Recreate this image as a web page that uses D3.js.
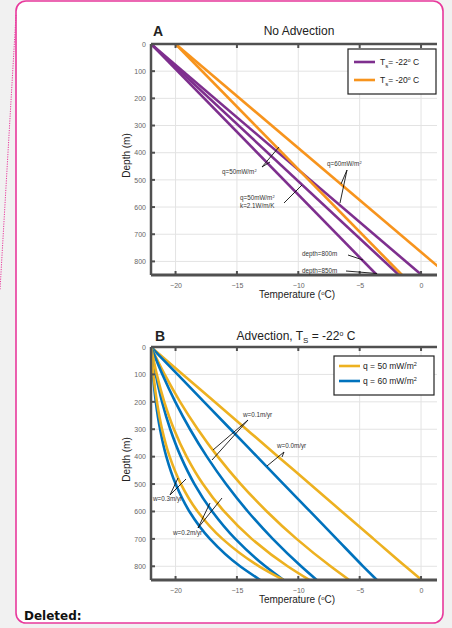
<!DOCTYPE html>
<html><head><meta charset="utf-8">
<script src="https://cdn.jsdelivr.net/npm/d3@7"></script>
<style>
body{margin:0;background:#f1f1f1;}
svg{display:block;font-family:"Liberation Sans",Arial,sans-serif;}
</style>
</head><body>
<svg id="c" width="452" height="628"></svg>
<script>
// ---- shared axes ----
const depthTicks = [0, 100, 200, 300, 400, 500, 600, 700, 800];
const tempTicks = [-20, -15, -10, -5, 0];

// ---- panel A: straight conductive profiles (temperature at surface and 850 m) ----
const depthsA = [0, 850];
const purpleQ50 = [-22, -3.6];           // q=50 mW/m2
const purpleQ50k21 = [-22, -1.8];        // q=50 mW/m2, k=2.1 W/m/K
const purpleQ60 = [-22, 0.05];           // q=60 mW/m2
const orangeQ50 = [-20, -1.55];
const orangeQ60 = [-20, 2.2];

// ---- panel B: profiles with vertical advection, Ts = -22 C ----
const depthsB = [0, 100, 200, 300, 400, 500, 600, 700, 800, 850];
const yelW00 = [-22, -19.41, -16.82, -14.23, -11.64, -9.05, -6.46, -3.87, -1.28, 0.05];
const bluW00 = [-22, -19.84, -17.68, -15.52, -13.36, -11.2, -9.04, -6.88, -4.72, -3.6];
const yelW01 = [-22, -20.89, -19.63, -18.19, -16.56, -14.69, -12.56, -10.14, -7.37, -5.85];
const bluW01 = [-22, -21.07, -20.02, -18.82, -17.45, -15.89, -14.11, -12.08, -9.77, -8.5];
const yelW02 = [-22, -21.53, -20.92, -20.13, -19.1, -17.77, -16.04, -13.79, -10.87, -9.1];
const bluW02 = [-22, -21.61, -21.1, -20.43, -19.57, -18.46, -17.01, -15.13, -12.68, -11.2];
const yelW03 = [-22, -21.81, -21.52, -21.1, -20.48, -19.56, -18.2, -16.18, -13.19, -11.2];
const bluW03 = [-22, -21.84, -21.61, -21.26, -20.75, -19.99, -18.87, -17.2, -14.74, -13.1];

const PURPLE = "#7e2f8e", ORANGE = "#f7941d", YELLOW = "#edb120", BLUE = "#0072bd";

const svg = d3.select("#c");

// comment balloon frame
svg.append("rect").attr("x", 16).attr("y", 1).attr("width", 427).attr("height", 622)
  .attr("rx", 10).attr("fill", "#fff").attr("stroke", "#e8399c").attr("stroke-width", 1.6);
svg.append("line").attr("x1", 16).attr("y1", 15).attr("x2", 0).attr("y2", 290)
  .attr("stroke", "#e8399c").attr("stroke-width", 1).attr("stroke-dasharray", "1.2,1.2");
svg.append("text").attr("x", 24).attr("y", 620).text("Deleted:")
  .attr("font-family", "'DejaVu Sans', Verdana, sans-serif").attr("font-weight", "bold")
  .attr("font-size", 12).attr("fill", "#111");

function panel(top, bottom, id) {
  const x = d3.scaleLinear([-22, 1.3], [151, 437]);
  const y = d3.scaleLinear([0, 850], [top, bottom]);
  const g = svg.append("g");
  // grid
  g.selectAll(".gx").data(tempTicks).join("line")
    .attr("x1", d => x(d)).attr("x2", d => x(d)).attr("y1", top).attr("y2", bottom)
    .attr("stroke", "#e3e3e3").attr("stroke-width", 1);
  g.selectAll(".gy").data(depthTicks.slice(1)).join("line")
    .attr("x1", x.range()[0]).attr("x2", x.range()[1]).attr("y1", d => y(d)).attr("y2", d => y(d))
    .attr("stroke", "#e3e3e3").attr("stroke-width", 1);
  // clip
  svg.append("clipPath").attr("id", id).append("rect")
    .attr("x", 151).attr("y", top - 2).attr("width", 286).attr("height", bottom - top + 2);
  return {x, y, g};
}

function axes(p, top, bottom) {
  const {x, y, g} = p;
  const ax = g.append("g");
  // bottom axis
  ax.append("g").attr("transform", `translate(0,${bottom})`)
    .call(d3.axisBottom(x).tickValues(tempTicks).tickSize(0).tickPadding(8))
    .call(s => s.select(".domain").remove())
    .call(s => s.selectAll("text").attr("fill", "#666").attr("font-size", 7).attr("font-family", "'Liberation Sans',Arial,sans-serif"));
  // left axis
  ax.append("g").attr("transform", `translate(151,0)`)
    .call(d3.axisLeft(y).tickValues(depthTicks).tickSize(0).tickPadding(5))
    .call(s => s.select(".domain").remove())
    .call(s => s.selectAll("text").attr("fill", "#666").attr("font-size", 7).attr("font-family", "'Liberation Sans',Arial,sans-serif"));
  // frame lines (left, top, bottom)
  const fc = "#505050";
  ax.append("line").attr("x1", 151).attr("x2", 437).attr("y1", bottom).attr("y2", bottom).attr("stroke", fc).attr("stroke-width", 3);
  ax.append("line").attr("x1", 151).attr("x2", 437).attr("y1", top).attr("y2", top).attr("stroke", fc).attr("stroke-width", 2.5);
  ax.append("line").attr("x1", 151).attr("x2", 151).attr("y1", top).attr("y2", bottom).attr("stroke", fc).attr("stroke-width", 2.5);
  // inward tick marks
  tempTicks.forEach(t => {
    ax.append("line").attr("x1", x(t)).attr("x2", x(t)).attr("y1", bottom).attr("y2", bottom - 4).attr("stroke", fc).attr("stroke-width", 2);
    ax.append("line").attr("x1", x(t)).attr("x2", x(t)).attr("y1", top).attr("y2", top + 4).attr("stroke", fc).attr("stroke-width", 2);
  });
  depthTicks.forEach(d => {
    ax.append("line").attr("x1", 151).attr("x2", 155).attr("y1", y(d)).attr("y2", y(d)).attr("stroke", fc).attr("stroke-width", 2);
  });
  // axis titles
  const xt = ax.append("text").attr("x", 297).attr("y", bottom + 23).attr("text-anchor", "middle")
    .attr("font-size", 10).attr("fill", "#222");
  xt.append("tspan").text("Temperature (");
  xt.append("tspan").text("o").attr("font-size", 6).attr("dy", -3.5);
  xt.append("tspan").text("C)").attr("dy", 3.5);
  ax.append("text").attr("transform", `translate(130,${(top + bottom) / 2 - 4}) rotate(-90)`)
    .attr("text-anchor", "middle").attr("font-size", 10).attr("fill", "#222").text("Depth (m)");
}

function drawSeries(p, depths, temps, color, clipId) {
  const line = d3.line().x(d => p.x(d[0])).y(d => p.y(d[1])).curve(d3.curveMonotoneY);
  p.g.append("path").datum(temps.map((t, i) => [t, depths[i]]))
    .attr("d", line).attr("fill", "none").attr("stroke", color).attr("stroke-width", 2.6)
    .attr("clip-path", `url(#${clipId})`);
}

// small annotation: one text element per line, optional superscript, plus leader lines
function note(g, lines, tx, ty, leaders) {
  lines.forEach((l, i) => {
    const t = g.append("text").attr("x", tx).attr("y", ty + i * 8).attr("font-size", 6.3).attr("fill", "#333");
    if (Array.isArray(l)) {
      t.append("tspan").text(l[0]);
      t.append("tspan").text(l[1]).attr("font-size", 4).attr("dy", -2.5);
    } else t.text(l);
  });
  leaders.forEach(([x1, y1, x2, y2]) =>
    g.append("line").attr("x1", x1).attr("y1", y1).attr("x2", x2).attr("y2", y2)
      .attr("stroke", "#111").attr("stroke-width", 0.9));
}

// ================= Panel A =================
const topA = 44, botA = 275;
const pA = panel(topA, botA, "clipA");
drawSeries(pA, depthsA, purpleQ50, PURPLE, "clipA");
drawSeries(pA, depthsA, purpleQ50k21, PURPLE, "clipA");
drawSeries(pA, depthsA, purpleQ60, PURPLE, "clipA");
drawSeries(pA, depthsA, orangeQ50, ORANGE, "clipA");
drawSeries(pA, depthsA, orangeQ60, ORANGE, "clipA");
axes(pA, topA, botA);

svg.append("text").attr("x", 153).attr("y", 36).attr("font-size", 14).attr("font-weight", "bold").attr("fill", "#222").text("A");
svg.append("text").attr("x", 299).attr("y", 35).attr("text-anchor", "middle").attr("font-size", 12).attr("fill", "#222").text("No Advection");

// legend A
const lgA = svg.append("g");
lgA.append("rect").attr("x", 348).attr("y", 49).attr("width", 88).attr("height", 45).attr("fill", "#fff").attr("stroke", "#222").attr("stroke-width", 1.2);
[[PURPLE, "-22"], [ORANGE, "-20"]].forEach(([c, v], i) => {
  const yy = 62 + i * 18;
  lgA.append("line").attr("x1", 354).attr("x2", 375).attr("y1", yy).attr("y2", yy).attr("stroke", c).attr("stroke-width", 2.6);
  const t = lgA.append("text").attr("x", 380).attr("y", yy + 3).attr("font-size", 8.5).attr("fill", "#222");
  t.append("tspan").text("T");
  t.append("tspan").text("s").attr("font-size", 6).attr("dy", 2.5);
  t.append("tspan").text("= " + v).attr("dy", -2.5);
  t.append("tspan").text("o").attr("font-size", 5).attr("dy", -3);
  t.append("tspan").text(" C").attr("dy", 3);
});

note(pA.g, [["q=50mW/m", "2"]], 222, 174, [[262, 167, 279, 147], [262, 167, 270, 162]]);
note(pA.g, [["q=50mW/m", "2"], "k=2.1W/m/K"], 240, 200, [[284, 203, 302, 185]]);
note(pA.g, [["q=60mW/m", "2"]], 327, 166, [[347, 170, 341, 184], [347, 170, 340, 203]]);
note(pA.g, ["depth=800m"], 302, 256, [[348, 255, 363, 260]]);
note(pA.g, ["depth=850m"], 302, 273, [[346, 271, 377, 273.5]]);

// ================= Panel B =================
const topB = 347, botB = 580;
const pB = panel(topB, botB, "clipB");
[[yelW00, YELLOW], [bluW00, BLUE], [yelW01, YELLOW], [bluW01, BLUE],
 [bluW02, BLUE], [yelW02, YELLOW], [bluW03, BLUE], [yelW03, YELLOW]]
  .forEach(([s, c]) => drawSeries(pB, depthsB, s, c, "clipB"));
axes(pB, topB, botB);

svg.append("text").attr("x", 155).attr("y", 341).attr("font-size", 14).attr("font-weight", "bold").attr("fill", "#222").text("B");
const tB = svg.append("text").attr("x", 296).attr("y", 340).attr("text-anchor", "middle").attr("font-size", 12).attr("fill", "#222");
tB.append("tspan").text("Advection, T");
tB.append("tspan").text("S").attr("font-size", 8).attr("dy", 3);
tB.append("tspan").text(" = -22").attr("dy", -3);
tB.append("tspan").text("o").attr("font-size", 7).attr("dy", -4);
tB.append("tspan").text(" C").attr("dy", 4);

// legend B
const lgB = svg.append("g");
lgB.append("rect").attr("x", 334).attr("y", 356).attr("width", 100).attr("height", 39).attr("fill", "#fff").attr("stroke", "#222").attr("stroke-width", 1.2);
[[YELLOW, "50"], [BLUE, "60"]].forEach(([c, v], i) => {
  const yy = 366 + i * 15;
  lgB.append("line").attr("x1", 339).attr("x2", 360).attr("y1", yy).attr("y2", yy).attr("stroke", c).attr("stroke-width", 2.6);
  const t = lgB.append("text").attr("x", 363).attr("y", yy + 3).attr("font-size", 8.5).attr("fill", "#222");
  t.append("tspan").text(`q = ${v} mW/m`);
  t.append("tspan").text("2").attr("font-size", 5.5).attr("dy", -3);
});

note(pB.g, ["w=0.1m/yr"], 243, 417, [[248, 420, 213, 450], [248, 420, 212, 460]]);
note(pB.g, ["w=0.0m/yr"], 277, 448, [[284, 452, 267, 466], [284, 452, 282, 457]]);
note(pB.g, ["w=0.3m/yr"], 153, 501, [[170, 495, 178, 478], [170, 495, 186, 479]]);
note(pB.g, ["w=0.2m/yr"], 173, 535, [[198, 528, 210, 503], [198, 528, 222, 498]]);
</script>
</body></html>
